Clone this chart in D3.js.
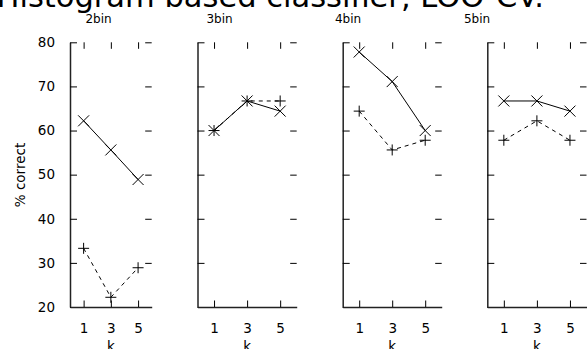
<!DOCTYPE html>
<html>
<head>
<meta charset="utf-8">
<script src="https://cdn.jsdelivr.net/npm/d3@7"></script>
<style>
  body { margin: 0; background: #fff; }
  svg { display: block; font-family: "DejaVu Sans", sans-serif; }
</style>
</head>
<body>
<div id="chart"></div>
<script>
// data
const bins = ["2bin", "3bin", "4bin", "5bin"];
const ks = [1, 3, 5];
const solidVals = [
    [62.2, 55.6, 48.9],
    [60.0, 66.7, 64.4],
    [77.8, 71.1, 60.0],
    [66.7, 66.7, 64.4]
];
const dashedVals = [
    [33.3, 22.2, 28.9],
    [60.0, 66.7, 66.7],
    [64.4, 55.6, 57.8],
    [57.8, 62.2, 57.8]
];
const yTicks = [20, 30, 40, 50, 60, 70, 80];

// layout
const W = 588, H = 349;
const panelLeft = [70, 197.5, 342.7, 487.3];
const panelWidth = [81.7, 99.2, 99, 99.2];
const titleX = [98.5, 219.5, 348, 477];
const plotTop = 42.3, plotBottom = 307;

const svg = d3.select("#chart").append("svg")
    .attr("width", W)
    .attr("height", H);

// main title, partly off the top edge
svg.append("text")
    .attr("x", 544)
    .attr("y", 7)
    .attr("text-anchor", "end")
    .style("font-size", "30.5px")
    .text("Histogram based classifier, LOO-CV.");

// y label
svg.append("text")
    .attr("transform", "translate(25," + 175 + ") rotate(-90)")
    .attr("text-anchor", "middle")
    .style("font-size", "13.5px")
    .text("% correct");

const y = d3.scaleLinear().domain([20, 80]).range([plotBottom, plotTop]);

const tick = 6.5;

bins.forEach((b, i) => {
    const x = d3.scaleLinear().domain([0, 6]).range([0, panelWidth[i]]);
    const g = svg.append("g")
        .attr("transform", "translate(" + panelLeft[i] + ",0)");

    // left axis
    const la = g.append("g")
        .call(d3.axisLeft(y).tickValues(yTicks).tickFormat(d3.format("d"))
            .tickSizeInner(-7).tickSizeOuter(0).tickPadding(8 + 7));
    if (i > 0) la.selectAll("text").remove();

    // right mirror ticks
    const ra = g.append("g")
        .attr("transform", "translate(" + panelWidth[i] + ",0)")
        .call(d3.axisRight(y).tickValues(yTicks).tickSizeInner(-tick).tickSizeOuter(0));
    ra.select(".domain").remove();
    ra.selectAll("text").remove();

    // bottom axis
    g.append("g")
        .attr("transform", "translate(0," + plotBottom + ")")
        .call(d3.axisBottom(x).tickValues(ks).tickFormat(d3.format("d"))
            .tickSizeInner(-tick).tickSizeOuter(0).tickPadding(10 + tick));

    // top mirror ticks
    const ta = g.append("g")
        .attr("transform", "translate(0," + plotTop + ")")
        .call(d3.axisTop(x).tickValues(ks).tickSizeInner(-tick).tickSizeOuter(0));
    ta.select(".domain").remove();
    ta.selectAll("text").remove();

    g.selectAll(".domain").attr("stroke", "#222").attr("stroke-width", 1.5);
    g.selectAll(".tick line").attr("stroke", "#000").attr("stroke-width", 1);
    g.selectAll(".tick text")
        .attr("fill", "#000")
        .style("font-size", "13.5px")
        .style("font-family", "DejaVu Sans, sans-serif");

    // panel title
    svg.append("text")
        .attr("x", titleX[i])
        .attr("y", 23)
        .attr("text-anchor", "middle")
        .style("font-size", "12px")
        .text(b);

    // x label
    g.append("text")
        .attr("x", panelWidth[i] / 2)
        .attr("y", 351)
        .attr("text-anchor", "middle")
        .style("font-size", "13.5px")
        .text("k");

    const line = d3.line()
        .x((d, j) => x(ks[j]))
        .y(d => y(d));

    // dashed series with + markers
    g.append("path")
        .datum(dashedVals[i])
        .attr("fill", "none")
        .attr("stroke", "#000")
        .attr("stroke-width", 1)
        .attr("stroke-dasharray", "4,4")
        .attr("d", line);

    const r = 5.5;
    dashedVals[i].forEach((v, j) => {
        const cx = x(ks[j]), cy = y(v);
        g.append("path")
            .attr("d", "M" + (cx - r) + "," + cy + "H" + (cx + r) + "M" + cx + "," + (cy - r) + "V" + (cy + r))
            .attr("stroke", "#000")
            .attr("stroke-width", 1);
    });

    // solid series with x markers
    g.append("path")
        .datum(solidVals[i])
        .attr("fill", "none")
        .attr("stroke", "#000")
        .attr("stroke-width", 1)
        .attr("d", line);

    const s = 5.5;
    solidVals[i].forEach((v, j) => {
        const cx = x(ks[j]), cy = y(v);
        g.append("path")
            .attr("d", "M" + (cx - s) + "," + (cy - s) + "L" + (cx + s) + "," + (cy + s) +
                "M" + (cx - s) + "," + (cy + s) + "L" + (cx + s) + "," + (cy - s))
            .attr("stroke", "#000")
            .attr("stroke-width", 1);
    });
});
</script>
</body>
</html>
